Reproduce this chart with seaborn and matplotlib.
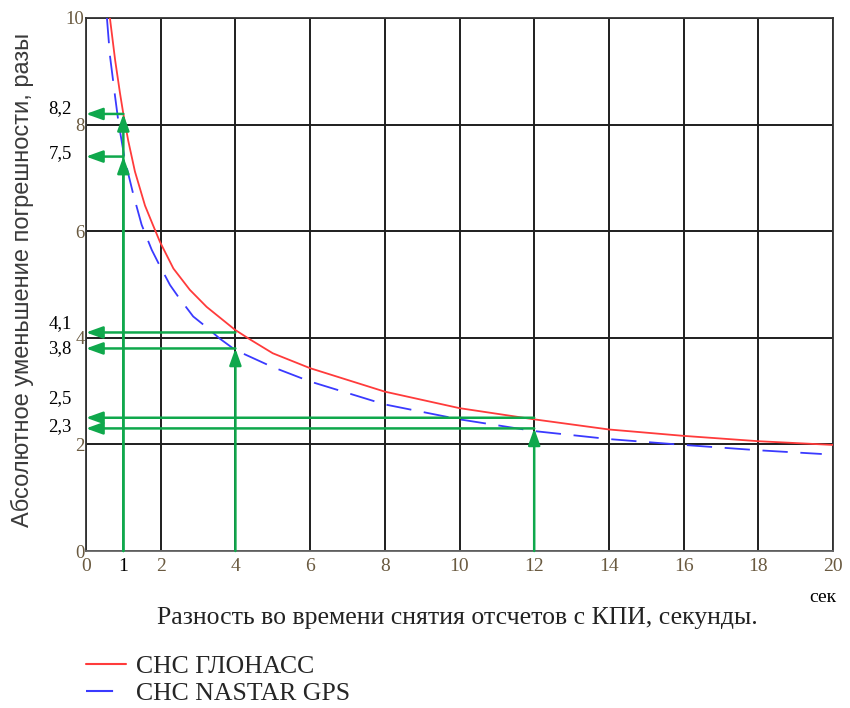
import matplotlib
matplotlib.use("Agg")
import matplotlib.pyplot as plt
import seaborn as sns
import pandas as pd
from matplotlib.lines import Line2D

# ---- data ----
glonass_x = [0.64, 0.78, 0.91, 1.0, 1.13, 1.31, 1.58, 1.79, 1.98, 2.34, 2.78, 3.23, 3.99, 4.39,
             5.0, 6.0, 8.0, 10.0, 12.0, 14.0, 16.0, 18.0, 20.0]
glonass_y = [10.0, 9.21, 8.59, 8.2, 7.7, 7.12, 6.48, 6.12, 5.8, 5.3, 4.9, 4.58, 4.15, 3.97,
             3.71, 3.43, 2.99, 2.68, 2.47, 2.28, 2.16, 2.06, 1.99]
gps_x = [0.56, 0.64, 0.78, 0.87, 1.04, 1.27, 1.49, 1.76, 1.94, 2.25, 2.47, 2.87, 3.19, 3.59,
         4.0, 5.0, 6.0, 8.0, 10.0, 12.0, 14.0, 16.0, 18.0, 19.7]
gps_y = [10.0, 9.3, 8.52, 8.04, 7.34, 6.68, 6.12, 5.65, 5.4, 4.99, 4.77, 4.40, 4.22, 3.98,
         3.77, 3.45, 3.18, 2.75, 2.47, 2.25, 2.10, 1.99, 1.89, 1.82]
series_names = ["СНС ГЛОНАСС", "СНС NASTAR GPS"]

# green marker arrows: x where read, y value, label
mark_x = [1, 1, 4, 4, 12, 12]
mark_y = [8.2, 7.4, 4.1, 3.8, 2.5, 2.3]
mark_labels = ["8,2", "7,5", "4,1", "3,8", "2,5", "2,3"]
vertical_x = [1, 1, 4, 12]
vertical_top = [8.2, 7.4, 3.8, 2.3]

x_ticks = [0, 2, 4, 6, 8, 10, 12, 14, 16, 18, 20]
y_ticks = [0, 2, 4, 6, 8, 10]

x_label = "Разность во времени снятия отсчетов с КПИ, секунды."
y_label = "Абсолютное уменьшение погрешности, разы"
unit_label = "сек"

df = pd.DataFrame({
    "x": glonass_x + gps_x,
    "y": glonass_y + gps_y,
    "series": [series_names[0]] * len(glonass_x) + [series_names[1]] * len(gps_x),
})

sns.set_theme(style="white")
plt.rcParams["font.family"] = ["Liberation Serif", "DejaVu Serif"]

fig = plt.figure(figsize=(8.5, 7.08), dpi=100)
ax = fig.add_axes([86 / 850, 1 - 551 / 708, (833 - 86) / 850, (551 - 18) / 708])

green = "#0fa84c"
tick_color = "#6a5a40"
red = "#ff3b3b"
blue = "#3a3aff"

sns.lineplot(data=df, x="x", y="y", hue="series", style="series",
             hue_order=series_names, style_order=series_names,
             palette={series_names[0]: red, series_names[1]: blue},
             dashes={series_names[0]: "", series_names[1]: (14, 7)},
             linewidth=1.3, estimator=None, sort=True, legend=False, ax=ax, zorder=3)

ax.set_xlim(0, 20)
ax.set_ylim(0, 10)
ax.set_xticks(x_ticks)
ax.set_yticks(y_ticks)
ax.set_xticks([1], minor=True)
ax.set_xticklabels([str(t) for t in x_ticks], fontsize=14, color=tick_color)
ax.set_yticklabels([str(t) for t in y_ticks], fontsize=13.5, color=tick_color)
ax.set_xticklabels(["1"], minor=True, fontsize=14, color="black")
ax.tick_params(axis="both", which="both", length=0)
ax.tick_params(axis="x", which="both", pad=5)
ax.tick_params(axis="y", pad=1)
ax.grid(True, which="major", color="#1e1e1e", linewidth=1.4)
ax.grid(False, which="minor")
ax.set_xlabel("")
ax.set_ylabel("")
for s in ax.spines.values():
    s.set_color("#333333")
    s.set_linewidth(1.3)
ax.spines["bottom"].set_color("#666666")

# green guide arrows
arrow_style = "-|>,head_length=0.5,head_width=0.18"
for vx, vt in zip(vertical_x, vertical_top):
    ax.annotate("", xy=(vx, vt), xytext=(vx, 0),
                arrowprops=dict(arrowstyle=arrow_style, color=green, lw=1.8,
                                mutation_scale=20, shrinkA=0, shrinkB=0),
                annotation_clip=False, zorder=5)
for mx, my in zip(mark_x, mark_y):
    ax.annotate("", xy=(0, my), xytext=(mx, my),
                arrowprops=dict(arrowstyle=arrow_style, color=green, lw=1.8,
                                mutation_scale=20, shrinkA=0, shrinkB=0),
                annotation_clip=False, zorder=5)

label_offsets = [0.1, 0.05, 0.16, 0.0, 0.36, 0.04]
for my, lab, off in zip(mark_y, mark_labels, label_offsets):
    ax.text(-0.38, my + off, lab, ha="right", va="center", fontsize=13.5,
            color="black", clip_on=False)

fig.text(457 / 850, 1 - 618 / 708, x_label, ha="center", va="center", fontsize=18.5,
         color="#222222")
fig.text(22 / 850, 1 - 280 / 708, y_label, ha="center", va="center", rotation=90,
         fontsize=17, color="#3a3a3a", family=["Liberation Sans", "DejaVu Sans"])
fig.text(823 / 850, 1 - 597 / 708, unit_label, ha="center", va="center", fontsize=14,
         color="black")

handles = [Line2D([], [], color=red, lw=1.5),
           Line2D([], [], color=blue, lw=1.5, dashes=(13, 9))]
fig.legend(handles, series_names, loc="upper left", bbox_to_anchor=(86 / 850, 1 - 655 / 708),
           frameon=False, fontsize=18.5, handlelength=1.55, handletextpad=0.4,
           labelspacing=0.17, borderaxespad=0, borderpad=0.0)

fig.savefig("out.png", dpi=100, facecolor="white")
